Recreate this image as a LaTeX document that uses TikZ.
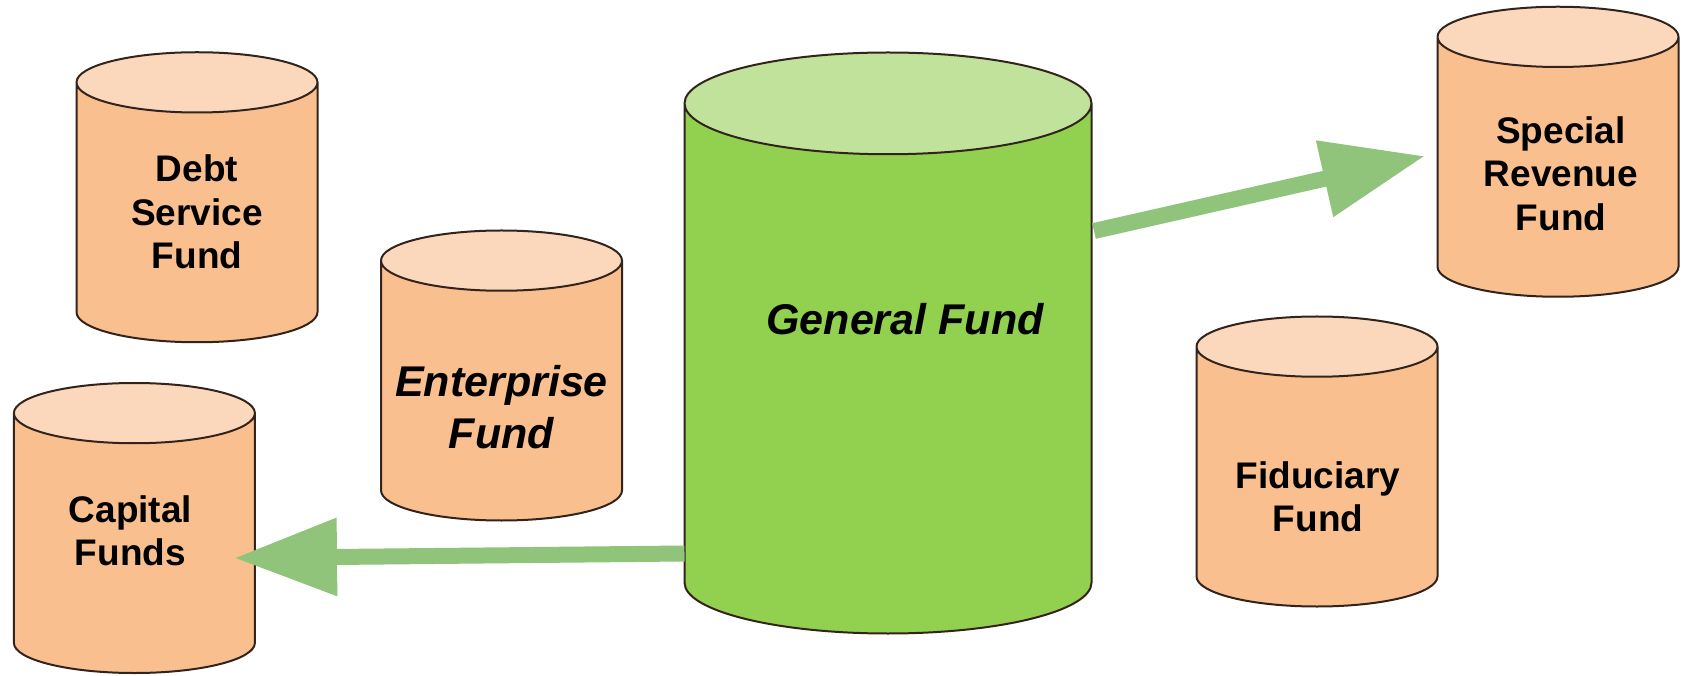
\documentclass[tikz,border=0pt]{standalone}
\usepackage{fontspec}
\setmainfont{Liberation Sans}
\usetikzlibrary{shapes.geometric,arrows.meta}

\definecolor{tankbody}{RGB}{249,191,143}
\definecolor{tanktop}{RGB}{251,216,188}
\definecolor{genbody}{RGB}{146,208,80}
\definecolor{gentop}{RGB}{192,226,155}
\definecolor{tankedge}{RGB}{50,36,28}
\definecolor{flowgreen}{RGB}{143,196,122}

\begin{document}
\begin{tikzpicture}[x=1pt,y=1pt]
					\tikzstyle{fund}=[cylinder, shape border rotate=90, aspect=0.25, draw=tankedge, line width=2pt,
						cylinder uses custom fill, cylinder body fill=tankbody, cylinder end fill=tanktop,
						text width=241pt, minimum height=290pt, inner sep=0pt, anchor=shape center]
					\tikzstyle{fundlabel}=[align=center, font=\fontsize{37}{43.5}\selectfont\bfseries]
					\tikzstyle{flow}=[draw=flowgreen, line width=16pt, -{Triangle[length=103pt, width=74pt]}]
					
					\useasboundingbox (0,0) rectangle (1685,675);
					
					\node[fund] at (197,477.75) (db) {};
					\node[fund] at (134.4,147) (cf) {};
					\node[fund] at (501.5,299.5) (ef) {};
					\node[fund] at (1558,523.25) (sr) {};
					\node[fund] at (1317,213.5) (fi) {};
					\node[fund, cylinder body fill=genbody, cylinder end fill=gentop,
						text width=407pt, minimum height=581pt] at (888,332) (gf) {};
					
					\node[fundlabel, xshift=0pt, yshift=-15pt] at (db.shape center) (dbtext) {Debt\\Service\\Fund};
					\node[fundlabel, xshift=-4pt, yshift=-3pt] at (cf.shape center) (cftext) {Capital\\Funds};
					\node[fundlabel, font=\fontsize{43}{52}\selectfont\bfseries\itshape, xshift=0pt, yshift=-31.5pt] at (ef.shape center) (eftext) {Enterprise\\Fund};
					\node[fundlabel, font=\fontsize{43}{52}\selectfont\bfseries\itshape, xshift=17pt, yshift=24pt] at (gf.shape center) (gftext) {General Fund};
					\node[fundlabel, xshift=3pt, yshift=-22pt] at (sr.shape center) (srtext) {Special\\Revenue\\Fund};
					\node[fundlabel, xshift=1pt, yshift=-35.5pt] at (fi.shape center) (fitext) {Fiduciary\\Fund};
					
					\draw[flow] ([shift={(-203.5pt,-210.5pt)}]gf.shape center) -- ([shift={(99.6pt,-30pt)}]cf.shape center);
					\draw[flow] ([shift={(206pt,112pt)}]gf.shape center) -- ([shift={(-133pt,-4.25pt)}]sr.shape center);
					
				\end{tikzpicture}
\end{document}
